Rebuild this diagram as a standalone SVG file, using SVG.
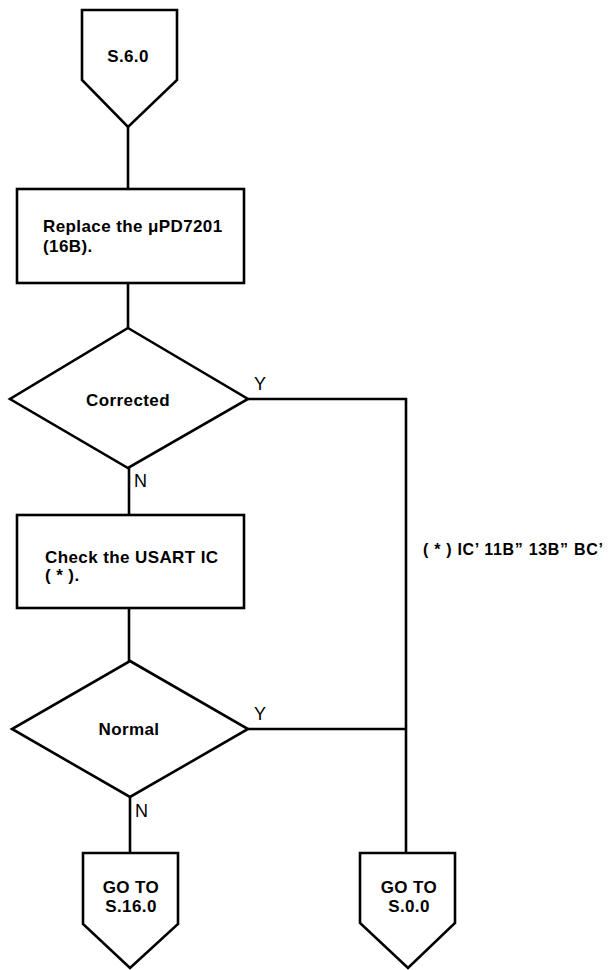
<svg xmlns="http://www.w3.org/2000/svg" width="611" height="970" viewBox="0 0 611 970">
<style>
.s{fill:#fff;stroke:#000;stroke-width:2.6;stroke-linejoin:miter}
.c{fill:none;stroke:#000;stroke-width:2.6}
text{font-family:"Liberation Sans",Arial,sans-serif;font-size:17px;font-weight:bold;fill:#000;letter-spacing:0.4px}
.m{text-anchor:middle}
.l{font-weight:normal;font-size:18px}
</style>
<rect width="611" height="970" fill="#fff"/>
<g id="connectors">
<path class="c" d="M128,127 V189"/>
<path class="c" d="M128,283 V328"/>
<path class="c" d="M129,468 V515"/>
<path class="c" d="M129,608 V661"/>
<path class="c" d="M130,797 V853"/>
<path class="c" d="M248,399 H406 V853"/>
<path class="c" d="M248,729 H406"/>
</g>
<g id="start">
<polygon class="s" points="82,10 177,10 177,80 128,127 82,80"/>
<text class="m" x="128" y="62">S.6.0</text>
</g>
<g id="replace">
<rect class="s" x="17" y="189" width="227" height="94"/>
<text x="43" y="232">Replace the μPD7201</text>
<text x="43" y="252">(16B).</text>
</g>
<g id="corrected">
<polygon class="s" points="128,328 248,399 128,468 10,399"/>
<text class="m" x="128" y="406">Corrected</text>
<text class="l" x="254" y="390">Y</text>
<text class="l" x="134" y="487">N</text>
</g>
<g id="check">
<rect class="s" x="17" y="515" width="227" height="93"/>
<text x="45" y="563">Check the USART IC</text>
<text x="45" y="581">( * ).</text>
</g>
<g id="normal">
<polygon class="s" points="130,661 248,729 130,797 12,729"/>
<text class="m" x="129" y="735">Normal</text>
<text class="l" x="254" y="720">Y</text>
<text class="l" x="135" y="817">N</text>
</g>
<g id="goto16">
<polygon class="s" points="83,853 178,853 178,924 130,968 83,924"/>
<text class="m" x="131" y="893">GO TO</text>
<text class="m" x="131" y="912">S.16.0</text>
</g>
<g id="goto0">
<polygon class="s" points="360,853 455,853 455,923 408,968 360,923"/>
<text class="m" x="409" y="893">GO TO</text>
<text class="m" x="409" y="912">S.0.0</text>
</g>
<g id="note">
<text x="423" y="555" style="font-size:16px;letter-spacing:0.7px">( * )  IC’ 11B” 13B” BC’</text>
</g>
</svg>
